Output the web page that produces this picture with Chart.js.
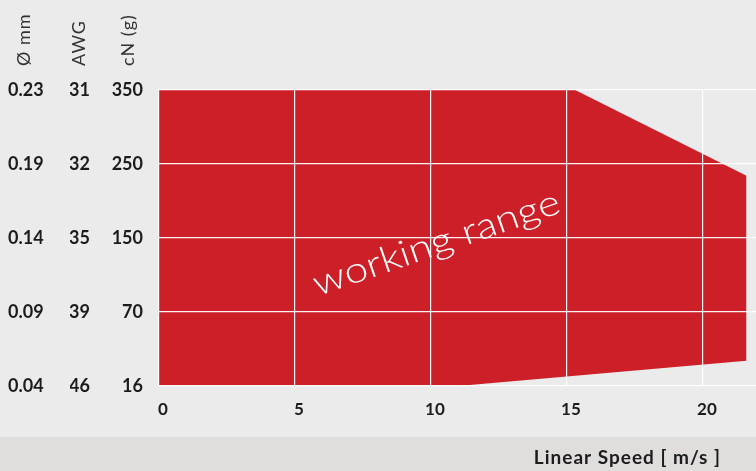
<!DOCTYPE html>
<html>
<head>
<meta charset="utf-8">
<script src="https://cdn.jsdelivr.net/npm/chart.js@4.4.0/dist/chart.umd.min.js"></script>
<style>
  html, body { margin: 0; padding: 0; background: #ebebeb; }
  #wrap { width: 756px; height: 471px; }
</style>
</head>
<body>
<div id="wrap"><canvas id="chart" width="756" height="471"></canvas></div>
<script>
// rows from bottom (0) to top (4)
const cnLabels = ['16', '70', '150', '250', '350'];
const awgLabels = ['46', '39', '35', '32', '31'];
const mmLabels = ['0.04', '0.09', '0.14', '0.19', '0.23'];
const speedTicks = [0, 5, 10, 15, 20];

// outline of the working range (speed in m/s, row level)
const upperSpeed = [0, 15.3, 21.6];
const upperLevel = [4, 4, 2.84];
const lowerSpeed = [0, 11, 21.6];
const lowerLevel = [0, 0, 0.34];

const RED = '#cc1f27';
const TEXT = '#1c1c1c';
const FONT = 'Lato, "Open Sans", sans-serif';

const toPoints = (xs, ys) => xs.map((x, i) => ({ x: x, y: ys[i] }));

const backdrop = {
    id: 'backdrop',
    beforeDraw(chart) {
        const ctx = chart.ctx;
        ctx.save();
        ctx.fillStyle = '#ebebeb';
        ctx.fillRect(0, 0, chart.width, chart.height);
        ctx.fillStyle = '#dfdedd';
        ctx.fillRect(0, 437, chart.width, chart.height - 437);
        ctx.restore();
    },
    afterDraw(chart) {
        const ctx = chart.ctx;
        const xs = chart.scales.x, ys = chart.scales.y;
        ctx.save();
        // axis title at bottom
        ctx.fillStyle = TEXT;
        ctx.font = 'bold 19px ' + FONT;
        ctx.letterSpacing = '1px';
        ctx.textAlign = 'right';
        ctx.textBaseline = 'middle';
        ctx.fillText('Linear Speed [ m/s ]', 721, 458);

        // column headers, vertical
        ctx.font = '18px ' + FONT;
        ctx.fillStyle = '#333';
        [['Ø mm', 24], ['AWG', 79], ['cN (g)', 128]].forEach(([t, x]) => {
            ctx.save();
            ctx.translate(x, 66);
            ctx.rotate(-Math.PI / 2);
            ctx.textAlign = 'left';
            ctx.fillText(t, 0, 0);
            ctx.restore();
        });
        ctx.letterSpacing = '0px';

        // label inside the area
        ctx.save();
        ctx.translate(xs.getPixelForValue(10.2), ys.getPixelForValue(1.93));
        ctx.rotate(-19 * Math.PI / 180);
        ctx.fillStyle = '#ffffff';
        ctx.font = '300 36px ' + FONT;
        const w = ctx.measureText('working range').width;
        ctx.scale(259 / w, 1);
        ctx.textAlign = 'center';
        ctx.textBaseline = 'middle';
        ctx.fillText('working range', 0, 0);
        ctx.restore();
        ctx.restore();
    }
};

const sideAxis = (labels, weight, width, align, pad) => ({
    type: 'linear',
    position: 'left',
    weight: weight,
    min: 0,
    max: 4,
    grid: { display: false, drawTicks: false },
    border: { display: false },
    ticks: {
        stepSize: 1,
        padding: pad,
        crossAlign: align,
        color: TEXT,
        font: { family: FONT, size: 18, weight: 'bold' },
        callback: v => labels[v]
    },
    afterFit: s => { s.width = width; }
});

const gridStyle = { color: 'rgba(255,255,255,0.95)', lineWidth: 1.2, drawTicks: false, z: 1 };

new Chart(document.getElementById('chart').getContext('2d'), {
    type: 'scatter',
    data: {
        datasets: [{
            data: toPoints(upperSpeed, upperLevel),
            showLine: true,
            borderWidth: 0,
            pointRadius: 0,
            backgroundColor: RED,
            fill: '+1'
        }, {
            data: toPoints(lowerSpeed, lowerLevel),
            showLine: true,
            borderWidth: 0,
            pointRadius: 0,
            fill: false
        }]
    },
    plugins: [backdrop],
    options: {
        responsive: false,
        animation: false,
        layout: { padding: { left: 8, top: 90, right: 0, bottom: 0 } },
        plugins: { legend: { display: false }, tooltip: { enabled: false } },
        scales: {
            x: {
                type: 'linear',
                min: 0,
                max: 21.95,
                afterBuildTicks: s => { s.ticks = speedTicks.map(v => ({ value: v })); },
                grid: gridStyle,
                border: { display: false },
                ticks: {
                    padding: 13,
                    labelOffset: 4,
                    color: TEXT,
                    font: { family: FONT, size: 17, weight: 'bold' },
                    callback: v => '' + v
                },
                afterFit: s => { s.height = 85; }
            },
            yMm: sideAxis(mmLabels, 3, 62, 'far', 0),
            yAwg: sideAxis(awgLabels, 2, 20, 'near', 0),
            y: {
                type: 'linear',
                position: 'left',
                weight: 1,
                min: 0,
                max: 4,
                grid: gridStyle,
                border: { display: false },
                ticks: {
                    stepSize: 1,
                    padding: 16,
                    color: TEXT,
                    font: { family: FONT, size: 18, weight: 'bold' },
                    callback: v => cnLabels[v]
                },
                afterFit: s => { s.width = 69; }
            }
        }
    }
});
</script>
</body>
</html>
